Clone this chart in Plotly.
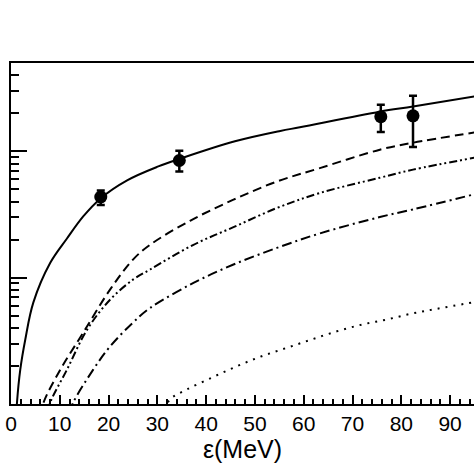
import plotly.graph_objects as go

# measured points
eps_data = [18.4, 34.5, 75.8, 82.4]
y_data = [4.35, 8.46, 18.8, 19.1]
err_plus = [0.55, 1.64, 4.6, 8.4]
err_minus = [0.59, 1.54, 4.6, 8.3]

# calculated curves
eps_solid = [1.0, 1.23, 1.9, 2.93, 4.57, 8.05, 11.47, 14.8, 18.3, 23.8, 30.2, 34.5, 45.9, 55.2, 59.2, 75.6, 82.4, 95.0]
y_solid = [0.07, 0.103, 0.187, 0.324, 0.634, 1.31, 2.04, 3.05, 4.22, 5.89, 7.59, 8.7, 12.0, 14.5, 15.5, 20.6, 22.6, 27.2]

eps_dash = [6.0, 6.68, 10.1, 14.8, 20.3, 25.0, 28.5, 36.7, 45.6, 54.5, 63.3, 75.6, 82.4, 95.0]
y_dash = [0.08, 0.103, 0.187, 0.367, 0.804, 1.39, 1.82, 2.82, 4.14, 5.77, 7.36, 10.3, 11.7, 14.1]

eps_dd = [7.3, 8.05, 11.47, 15.6, 20.3, 25.0, 28.5, 37.4, 45.6, 54.5, 63.3, 75.6, 82.4, 95.0]
y_dd = [0.08, 0.103, 0.187, 0.388, 0.669, 0.964, 1.16, 1.82, 2.51, 3.56, 4.68, 6.18, 7.16, 8.9]

eps_dashdot = [12.0, 12.76, 16.85, 20.3, 25.0, 28.5, 37.4, 45.6, 54.5, 63.3, 75.6, 82.4, 95.0]
y_dashdot = [0.085, 0.103, 0.187, 0.285, 0.441, 0.575, 0.908, 1.27, 1.72, 2.24, 3.02, 3.47, 4.57]

eps_dot = [31.5, 32.6, 36.0, 41.2, 46.3, 51.4, 56.5, 61.6, 66.8, 71.9, 77.0, 82.1, 87.2, 95.0]
y_dot = [0.09, 0.109, 0.130, 0.162, 0.199, 0.239, 0.278, 0.324, 0.376, 0.425, 0.466, 0.519, 0.566, 0.64]

x_ticks = [0, 10, 20, 30, 40, 50, 60, 70, 80, 90]

fig = go.Figure()

curves = [
    (eps_solid, y_solid, "solid"),
    (eps_dash, y_dash, "9px,5px"),
    (eps_dd, y_dd, "8px,3px,2px,3px,2px,3px"),
    (eps_dashdot, y_dashdot, "10px,4px,2px,4px"),
    (eps_dot, y_dot, "2px,6px"),
]
for xs, ys, dash in curves:
    fig.add_trace(go.Scatter(x=xs, y=ys, mode="lines", line_shape="spline",
                             line=dict(color="black", width=2, dash=dash, smoothing=1.0),
                             showlegend=False, hoverinfo="skip"))

fig.add_trace(go.Scatter(
    x=eps_data, y=y_data, mode="markers",
    marker=dict(color="black", size=13, symbol="circle"),
    error_y=dict(type="data", array=err_plus, arrayminus=err_minus,
                 color="black", thickness=2.5, width=4),
    showlegend=False, hoverinfo="skip"))

fig.update_xaxes(range=[0, 94.9], tickvals=x_ticks, ticks="inside", ticklen=9,
                 tickwidth=1.5, tickcolor="black", showline=True, linecolor="black",
                 linewidth=2, mirror=True, showgrid=False, zeroline=False,
                 automargin=False, ticklabeloverflow="allow",
                 minor=dict(dtick=2, ticks="inside", ticklen=5, tickcolor="black", tickwidth=1.5),
                 tickfont=dict(family="Liberation Sans", size=21, color="black"),
                 title=dict(text="ε(MeV)", font=dict(family="Liberation Sans", size=25, color="black"),
                            standoff=2))
fig.update_yaxes(type="log", range=[-1, 1.699], dtick=1, ticks="inside", ticklen=16,
                 tickwidth=1.5, tickcolor="black", showline=True, linecolor="black",
                 linewidth=2, showgrid=False, zeroline=False, showticklabels=False,
                 automargin=False,
                 minor=dict(dtick="D1", ticks="inside", ticklen=8, tickcolor="black", tickwidth=1.5))

fig.update_layout(width=474, height=474, plot_bgcolor="white", paper_bgcolor="white",
                  margin=dict(l=11, r=0, t=63, b=70, autoexpand=False))

# drop the default page margin so the figure sits at the window corner
fig.write_html("out.html", config={"displayModeBar": False},
               post_script="document.body.style.margin='0';")
